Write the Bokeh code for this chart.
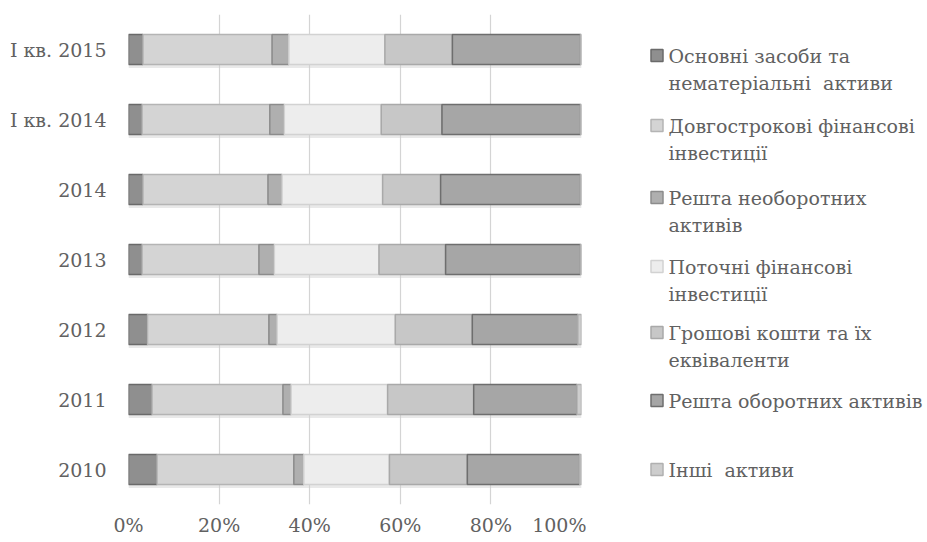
from bokeh.plotting import figure
from bokeh.layouts import row
from bokeh.models import (ColumnDataSource, FactorRange, FixedTicker, PrintfTickFormatter,
                          Range1d, Label)
from bokeh.transform import dodge
from bokeh.embed import file_html
from bokeh.resources import INLINE

# Asset structure, % of total, per period (bottom to top)
periods = ["2010", "2011", "2012", "2013", "2014", "I кв. 2014", "I кв. 2015"]
fixed_assets = [6.3, 5.2, 4.2, 3.0, 3.2, 3.0, 3.2]
lt_investments = [30.2, 28.9, 26.8, 25.8, 27.6, 28.2, 28.5]
other_noncurrent = [2.2, 1.8, 1.8, 3.4, 3.1, 3.2, 3.7]
st_investments = [18.9, 21.3, 26.1, 23.1, 22.2, 21.4, 21.2]
cash = [17.2, 19.0, 17.0, 14.7, 12.8, 13.4, 14.9]
other_current = [24.8, 22.8, 23.3, 29.8, 30.9, 30.6, 28.3]
other_assets = [0.4, 1.0, 0.8, 0.2, 0.2, 0.2, 0.2]

series_keys = ["fixed", "lt_inv", "other_nc", "st_inv", "cash", "other_c", "other"]
series_labels = [
    ["Основні засоби та", "нематеріальні\u00a0 активи"],
    ["Довгострокові фінансові", "інвестиції"],
    ["Решта необоротних", "активів"],
    ["Поточні фінансові", "інвестиції"],
    ["Грошові кошти та їх", "еквіваленти"],
    ["Решта оборотних активів"],
    ["Інші\u00a0 активи"],
]
x_ticks = [0, 20, 40, 60, 80, 100]

fills = ["#8f8f8f", "#d4d4d4", "#afafaf", "#ededed", "#c7c7c7", "#a6a6a6", "#cdcdcd"]
lines = ["#6a6a6a", "#b4b4b4", "#8c8c8c", "#d2d2d2", "#a9a9a9", "#6e6e6e", "#b0b0b0"]

FONT = "DejaVu Serif"
FSIZE = "19px"
TXT = "#616161"

source = ColumnDataSource(dict(
    period=periods,
    fixed=fixed_assets,
    lt_inv=lt_investments,
    other_nc=other_noncurrent,
    st_inv=st_investments,
    cash=cash,
    other_c=other_current,
    other=other_assets,
    total=[100] * len(periods),
))

p = figure(
    width=586, height=542,
    y_range=FactorRange(*periods),
    x_range=Range1d(0, 100),
    output_backend="svg", toolbar_location=None,
    min_border_left=128, min_border_right=5, min_border_top=14, min_border_bottom=38,
)

# soft drop shadow under each bar
p.hbar(y=dodge("period", -0.05, range=p.y_range), left=0, right="total", height=0.43,
       source=source, fill_color="#cfcfcf", fill_alpha=0.45, line_color=None)

p.hbar_stack(series_keys, y="period", height=0.43, source=source,
             fill_color=fills, line_color=lines, line_width=1.5)

p.outline_line_color = None
p.ygrid.grid_line_color = None
p.xgrid.grid_line_color = "#d4d4d4"
p.xgrid.grid_line_width = 1.2
p.xgrid.ticker = FixedTicker(ticks=x_ticks)
p.xgrid.level = "underlay"

p.xaxis.ticker = FixedTicker(ticks=x_ticks)
p.xaxis.formatter = PrintfTickFormatter(format="%d%%")
for ax in (p.xaxis, p.yaxis):
    ax.axis_line_color = None
    ax.major_tick_line_color = None
    ax.minor_tick_line_color = None
    ax.major_tick_out = 0
    ax.major_tick_in = 0
    ax.minor_tick_out = 0
    ax.major_label_text_font = FONT
    ax.major_label_text_font_size = FSIZE
    ax.major_label_text_color = TXT
p.xaxis.major_label_standoff = 9
p.yaxis.major_label_standoff = 22

# Legend panel; its frame uses pixel-like coordinates
leg = figure(
    width=341, height=542,
    x_range=Range1d(0, 341), y_range=Range1d(504, 14),
    output_backend="svg", toolbar_location=None,
    min_border_left=0, min_border_right=0, min_border_top=14, min_border_bottom=38,
)
leg.axis.visible = False
leg.grid.visible = False
leg.outline_line_color = None

entry_y = [55, 125, 197, 266, 332, 400, 469]
for i, lab in enumerate(series_labels):
    y0 = entry_y[i]
    leg.rect(x=[70.5], y=[y0], width=12, height=12, width_units="screen", height_units="screen",
             fill_color=fills[i], line_color=lines[i], line_width=1.5)
    for k, line in enumerate(lab):
        leg.add_layout(Label(x=82, y=y0 + 27 * k, text=line,
                             text_font=FONT, text_font_size=FSIZE, text_color=TXT,
                             text_baseline="middle", text_align="left"))

layout = row(p, leg)
open("out.html", "w").write(file_html(layout, INLINE))
